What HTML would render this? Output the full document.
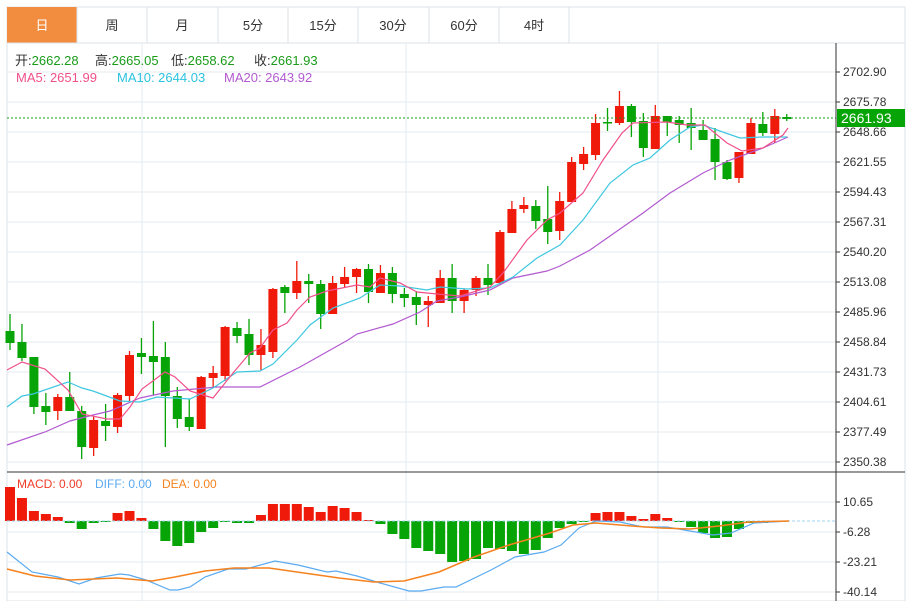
<!DOCTYPE html>
<html><head><meta charset="utf-8">
<style>
body{margin:0;background:#fff;width:912px;height:601px;overflow:hidden;font-family:"Liberation Sans","Noto Sans CJK SC",sans-serif;}
svg{position:absolute;left:0;top:0}
</style></head><body>
<svg id="s" width="912" height="601" xmlns="http://www.w3.org/2000/svg" font-family="Liberation Sans, Noto Sans CJK SC, sans-serif">
<rect x="7" y="7" width="898" height="594" fill="#fff" stroke="#dde3e8"/>
<rect x="7" y="7" width="70" height="36" fill="#f28c3f"/>
<g stroke="#dde3e8"><line x1="7" y1="43" x2="905" y2="43"/>
<line x1="77" y1="7" x2="77" y2="43"/><line x1="147" y1="7" x2="147" y2="43"/><line x1="218" y1="7" x2="218" y2="43"/><line x1="288" y1="7" x2="288" y2="43"/><line x1="358" y1="7" x2="358" y2="43"/><line x1="429" y1="7" x2="429" y2="43"/><line x1="499" y1="7" x2="499" y2="43"/><line x1="569" y1="7" x2="569" y2="43"/></g>
<g font-size="13" text-anchor="middle" fill="#333"><text x="42" y="30" fill="#fff">日</text><text x="112" y="30">周</text><text x="182" y="30">月</text><text x="253" y="30">5分</text><text x="323" y="30">15分</text><text x="393" y="30">30分</text><text x="464" y="30">60分</text><text x="534" y="30">4时</text></g>
<g id="grid" stroke="#e3ebf1"></g>
<g font-size="13" fill="#333">
<text x="15" y="65">开:<tspan fill="#1a9c1a">2662.28</tspan></text>
<text x="95" y="65">高:<tspan fill="#1a9c1a">2665.05</tspan></text>
<text x="171" y="65">低:<tspan fill="#1a9c1a">2658.62</tspan></text>
<text x="254" y="65">收:<tspan fill="#1a9c1a">2661.93</tspan></text>
<text x="16" y="82" fill="#f0508a">MA5: 2651.99</text>
<text x="117" y="82" fill="#2cc3e0">MA10: 2644.03</text>
<text x="224" y="82" fill="#b25ad0">MA20: 2643.92</text></g>
<g font-size="12"><text x="17" y="488" fill="#f03c28">MACD: 0.00</text><text x="95" y="488" fill="#5aaaf0">DIFF: 0.00</text><text x="162" y="488" fill="#f5821e">DEA: 0.00</text></g>
<g id="c"></g>
<line x1="7" y1="118" x2="836" y2="118" stroke="#1a9c1a" stroke-dasharray="2,2"/>
<line x1="7" y1="472" x2="905" y2="472" stroke="#333"/>
<line x1="836" y1="43" x2="836" y2="601" stroke="#333"/>
<g id="ax" font-size="12" fill="#333"></g>
<rect x="837" y="109" width="68" height="18" fill="#06a406"/>
<text x="841" y="123" font-size="14" fill="#fff">2661.93</text>
</svg>
<script>
var NS="http://www.w3.org/2000/svg",c=document.getElementById('c'),g=document.getElementById('grid'),ax=document.getElementById('ax');
function el(p,t,a){var e=document.createElementNS(NS,t);for(var k in a)e.setAttribute(k,a[k]);p.appendChild(e);return e;}
var labs=["2702.90","2675.78","2648.66","2621.55","2594.43","2567.31","2540.20","2513.08","2485.96","2458.84","2431.73","2404.61","2377.49","2350.38"];
labs.forEach(function(l,i){var y=72+i*30;el(g,'line',{x1:7,y1:y,x2:836,y2:y});el(ax,'line',{x1:836,y1:y,x2:840,y2:y,stroke:'#333'});var t=el(ax,'text',{x:843,y:y+4});t.textContent=l;});
[[502,"10.65"],[532,"-6.28"],[562,"-23.21"],[592,"-40.14"]].forEach(function(a){el(g,'line',{x1:7,y1:a[0],x2:836,y2:a[0]});el(ax,'line',{x1:836,y1:a[0],x2:840,y2:a[0],stroke:'#333'});var t=el(ax,'text',{x:843,y:a[0]+4});t.textContent=a[1];});
[142,406,658].forEach(function(x){el(g,'line',{x1:x,y1:43,x2:x,y2:601});});
var K=[[314,331,343,350,'g'],[324,342,358,361,'g'],[357,357,407,414,'g'],[393,406,412,425,'g'],[394,397,411,420,'r'],[372,397,411,411,'g'],[406,411,447,459,'g'],[417,420,448,456,'r'],[404,421,426,441,'g'],[393,395,427,433,'r'],[351,355,396,402,'r'],[338,353,357,374,'g'],[321,356,362,395,'g'],[342,357,396,447,'g'],[387,396,419,428,'g'],[399,417,427,431,'g'],[376,377,429,429,'r'],[366,373,378,387,'r'],[326,327,376,381,'r'],[322,328,336,343,'g'],[319,334,355,365,'g'],[329,345,355,371,'r'],[288,289,352,358,'r'],[285,287,293,313,'g'],[261,281,293,299,'r'],[274,281,284,303,'g'],[280,284,314,329,'g'],[276,283,314,314,'r'],[267,277,284,287,'r'],[268,269,277,293,'r'],[264,269,292,303,'g'],[265,273,293,293,'r'],[267,273,294,303,'g'],[288,294,298,307,'g'],[291,297,305,325,'g'],[296,301,305,327,'r'],[270,278,303,303,'r'],[264,278,301,313,'g'],[289,290,301,313,'r'],[276,278,290,296,'r'],[264,278,285,295,'g'],[230,232,283,285,'r'],[201,209,233,233,'r'],[197,205,209,213,'r'],[200,206,221,229,'g'],[186,219,232,244,'g'],[192,201,231,240,'r'],[157,162,202,202,'r'],[147,154,164,170,'r'],[114,123,155,160,'r'],[108,122,123,131,'g'],[91,106,123,125,'r'],[104,106,122,137,'g'],[113,121,148,157,'g'],[105,116,149,149,'r'],[116,116,122,136,'g'],[116,120,125,143,'g'],[108,123,128,150,'g'],[120,130,140,140,'g'],[128,139,162,180,'g'],[160,162,179,180,'g'],[152,152,178,183,'r'],[118,123,154,154,'r'],[112,124,133,136,'g'],[109,116,134,143,'r'],[114,117,119,121,'g']];
function X(i){return 10+11.95*i;}
function pl(pts,col,w){el(c,'polyline',{points:pts.map(function(p){return p.join(',')}).join(' '),fill:'none',stroke:col,'stroke-width':w||1.2});}
var M=[487,498,511,514,517,523,529,523,522,513,511,518,529,541,546,543,532,528,522,523,523,515,504,504,504,507,512,506,508,512,520,524,534,539,548,551,554,562,561,559,548,549,551,554,550,538,528,524,522,513,512,512,516,519,514,518,522,527,533,538,537,529,523,523];
M.forEach(function(y,i){var x=X(i)-5,z=521;var up=y<z;el(c,'rect',{x:x,y:Math.min(y,z),width:10,height:Math.max(1,Math.abs(z-y)),fill:up?'#f01a0a':'#06a406'});});
el(c,'line',{x1:7,y1:521,x2:836,y2:521,stroke:'#9fd4ec','stroke-dasharray':'3,2'});
pl([[7,552],[32,572],[58,577],[79,584],[96,578],[120,574],[129,575],[146,580],[170,590],[178,590],[190,587],[205,577],[228,569],[246,569],[275,561],[298,565],[327,572],[336,571],[357,576],[380,583],[409,591],[421,591],[444,587],[456,587],[491,570],[515,557],[544,552],[561,545],[579,528],[596,521],[620,522],[643,527],[667,527],[690,531],[713,535],[731,533],[754,523],[789,521]],'#5aaaf0',1.2);
pl([[7,569],[35,576],[70,580],[117,578],[152,581],[175,577],[205,571],[234,568],[269,568],[304,573],[339,578],[374,582],[404,581],[439,572],[474,557],[509,545],[550,533],[573,525],[596,523],[632,526],[661,528],[690,529],[719,526],[749,522],[789,521]],'#f5821e',1.5);
K.forEach(function(k,i){var x=X(i),col=k[4]=='r'?'#f01a0a':'#06a406';el(c,'line',{x1:x,y1:k[0],x2:x,y2:k[3],stroke:col,'stroke-width':1.3});el(c,'rect',{x:x-4.5,y:k[1],width:9,height:Math.max(1.5,k[2]-k[1]),fill:col});});
pl([[7,445],[45,432],[70,421],[93,415],[110,411],[140,398],[173,391],[217,387],[260,387],[300,367],[348,340],[357,334],[393,324],[420,312],[437,301],[460,297],[490,290],[513,278],[547,271],[560,266],[590,250],[643,213],[670,193],[703,173],[730,160],[763,148],[788,137]],'#b25ad0');
pl([[7,407],[22,396],[33,394],[68,382],[82,388],[93,391],[120,401],[140,402],[157,397],[190,399],[213,388],[237,372],[260,371],[273,364],[297,340],[310,325],[333,308],[360,298],[380,285],[400,286],[427,290],[440,287],[467,289],[490,288],[513,277],[537,258],[560,245],[583,220],[610,183],[633,165],[650,158],[670,140],[690,127],[703,125],[717,130],[740,138],[763,137],[787,137]],'#3fc7e0');
pl([[7,370],[22,362],[45,369],[68,390],[82,414],[107,419],[120,419],[130,407],[142,389],[165,372],[175,377],[190,391],[213,398],[233,373],[250,353],[260,348],[273,330],[287,323],[297,310],[310,297],[327,291],[357,285],[370,287],[380,278],[400,283],[417,292],[437,294],[460,296],[490,287],[503,273],[527,240],[547,220],[560,213],[583,193],[603,160],[622,133],[633,123],[667,122],[687,125],[705,125],[727,143],[742,151],[763,148],[783,135],[788,128]],'#f0508a');
</script>
</body></html>
